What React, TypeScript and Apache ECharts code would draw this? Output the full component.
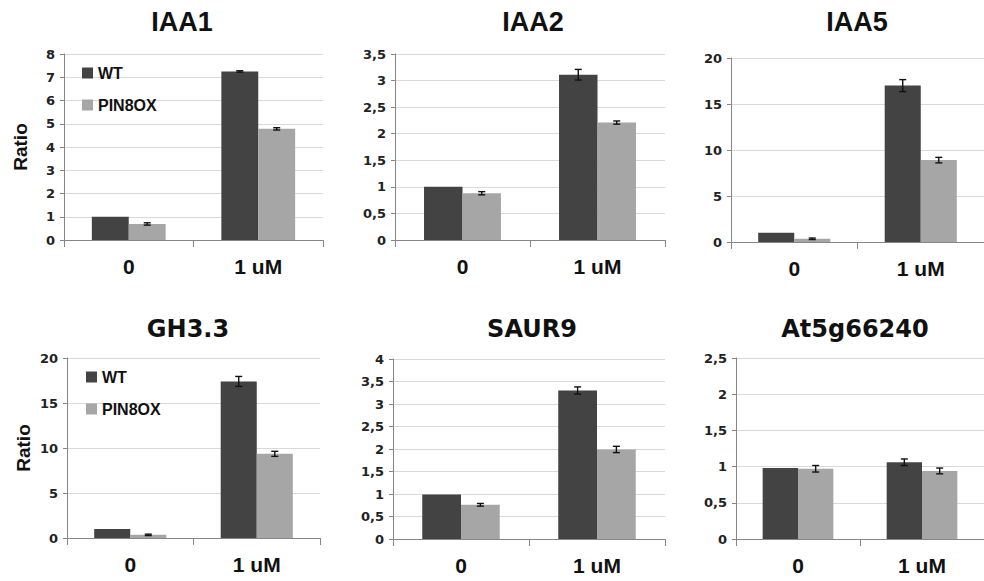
import React, { useEffect, useRef } from "react";
import * as echarts from "echarts";

const categories = ["0", "1 uM"];
const seriesNames = ["WT", "PIN8OX"];
const titles = ["IAA1", "IAA2", "IAA5", "GH3.3", "SAUR9", "At5g66240"];
const wtValues = [[1, 7.25], [1, 3.11], [1, 17.0], [1, 17.4], [0.99, 3.3], [0.98, 1.06]];
const wtErrors = [[0, 0.03], [0, 0.1], [0, 0.65], [0, 0.55], [0, 0.08], [0, 0.045]];
const pinValues = [[0.69, 4.78], [0.88, 2.21], [0.35, 8.9], [0.35, 9.35], [0.76, 1.99], [0.97, 0.94]];
const pinErrors = [[0.05, 0.05], [0.03, 0.03], [0.08, 0.3], [0.08, 0.28], [0.03, 0.07], [0.045, 0.04]];
const yMax = [8, 3.5, 20, 20, 4, 2.5];
const yInterval = [1, 0.5, 5, 5, 0.5, 0.5];
const hasYName = [true, false, false, true, false, false];
const hasLegend = [true, false, false, true, false, false];

// layout (pixels)
const gridBoxes = [
  { left: 64, top: 54, width: 259, height: 186 },
  { left: 395, top: 54, width: 270, height: 186 },
  { left: 731, top: 58, width: 258, height: 184 },
  { left: 67, top: 358, width: 253, height: 180 },
  { left: 393, top: 359, width: 272, height: 180 },
  { left: 736, top: 358, width: 254, height: 181 },
];
const titlePos = [
  { x: 182, y: 8 }, { x: 533, y: 8 }, { x: 857, y: 8 },
  { x: 188, y: 317 }, { x: 532, y: 317 }, { x: 855, y: 317 },
];
const legendPos = [{ left: 77, top: 60 }, { left: 81, top: 364 }];

const BAR_FRAC = 0.285;
const WT_COLOR = "#434343";
const PIN_COLOR = "#a6a6a6";

const fmt = (v: number) => String(v).replace(".", ",");

export default function App() {
  const ref = useRef<HTMLDivElement>(null);
  useEffect(() => {
    if (!ref.current) return;
    const chart = echarts.init(ref.current, null, { renderer: "svg" });

    const grid: any[] = [];
    const xAxis: any[] = [];
    const yAxis: any[] = [];
    const series: any[] = [];
    const title: any[] = [];
    const legend: any[] = [];

    const errSeries = (i: number, vals: number[], errs: number[], sign: number, name: string) => ({
      type: "custom",
      name,
      xAxisIndex: i,
      yAxisIndex: i,
      z: 10,
      silent: true,
      encode: { x: 0, y: 1 },
      data: vals.map((v, j) => [j, v, errs[j]]),
      renderItem: (params: any, api: any) => {
        const x = api.value(0);
        const v = api.value(1);
        const e = api.value(2);
        if (!e) return { type: "group", children: [] };
        const band = api.size([1, 0])[0];
        const off = (sign * band * BAR_FRAC) / 2;
        const top = api.coord([x, v + e]);
        const bot = api.coord([x, v - e]);
        const cx = top[0] + off;
        const cap = 3.5;
        const st = { stroke: "#111", lineWidth: 1.4 };
        return {
          type: "group",
          children: [
            { type: "line", shape: { x1: cx, y1: top[1], x2: cx, y2: bot[1] }, style: st },
            { type: "line", shape: { x1: cx - cap, y1: top[1], x2: cx + cap, y2: top[1] }, style: st },
            { type: "line", shape: { x1: cx - cap, y1: bot[1], x2: cx + cap, y2: bot[1] }, style: st },
          ],
        };
      },
    });

    titles.forEach((t, i) => {
      const row2 = i >= 3;
      title.push({
        text: t,
        left: titlePos[i].x,
        top: titlePos[i].y,
        textAlign: "center",
        padding: 0,
        textStyle: {
          fontFamily: row2 ? "DejaVu Sans" : "Liberation Sans",
          fontWeight: "bold",
          fontSize: row2 ? 24 : 27,
          color: "#111",
        },
      });
      grid.push({ ...gridBoxes[i], containLabel: false });
      xAxis.push({
        type: "category",
        gridIndex: i,
        data: categories,
        boundaryGap: true,
        axisLine: { show: true, lineStyle: { color: "#868686", width: 1 } },
        axisTick: { show: true, length: 7, alignWithLabel: false, lineStyle: { color: "#868686" } },
        axisLabel: {
          fontFamily: "Liberation Sans",
          fontWeight: "bold",
          fontSize: 21,
          color: "#111",
          margin: 16,
        },
        splitLine: { show: false },
      });
      yAxis.push({
        type: "value",
        gridIndex: i,
        min: 0,
        max: yMax[i],
        interval: yInterval[i],
        name: hasYName[i] ? "Ratio" : "",
        nameLocation: "middle",
        nameGap: 34,
        nameRotate: 90,
        nameTextStyle: {
          fontFamily: "Liberation Sans",
          fontWeight: "bold",
          fontSize: 19,
          color: "#111",
        },
        axisLine: { show: true, lineStyle: { color: "#868686", width: 1 } },
        axisTick: { show: true, length: 4, lineStyle: { color: "#868686" } },
        axisLabel: {
          fontFamily: "DejaVu Sans",
          fontWeight: "bold",
          fontSize: 13,
          color: "#222",
          margin: 9,
          formatter: fmt,
        },
        splitLine: { show: true, lineStyle: { color: "#d9d9d9", width: 1 } },
      });
      series.push({
        type: "bar",
        name: seriesNames[0],
        xAxisIndex: i,
        yAxisIndex: i,
        data: wtValues[i],
        barWidth: BAR_FRAC * 100 + "%",
        barGap: "0%",
        itemStyle: { color: WT_COLOR },
      });
      series.push({
        type: "bar",
        name: seriesNames[1],
        xAxisIndex: i,
        yAxisIndex: i,
        data: pinValues[i],
        barWidth: BAR_FRAC * 100 + "%",
        barGap: "0%",
        itemStyle: { color: PIN_COLOR },
      });
      series.push(errSeries(i, wtValues[i], wtErrors[i], -1, "errWT" + i));
      series.push(errSeries(i, pinValues[i], pinErrors[i], 1, "errPIN" + i));
    });

    legendPos.forEach((p) => {
      legend.push({
        left: p.left,
        top: p.top,
        orient: "vertical",
        itemGap: 16,
        itemWidth: 11,
        itemHeight: 11,
        icon: "rect",
        selectedMode: false,
        data: seriesNames,
        textStyle: {
          fontFamily: "Liberation Sans",
          fontWeight: "bold",
          fontSize: 16,
          color: "#111",
        },
      });
    });

    chart.setOption({
      animation: false,
      backgroundColor: "#ffffff",
      title,
      legend,
      grid,
      xAxis,
      yAxis,
      series,
    });
    return () => chart.dispose();
  }, []);

  return (
    <div
      ref={ref}
      style={{ position: "fixed", left: 0, top: 0, width: 984, height: 581 }}
    />
  );
}
